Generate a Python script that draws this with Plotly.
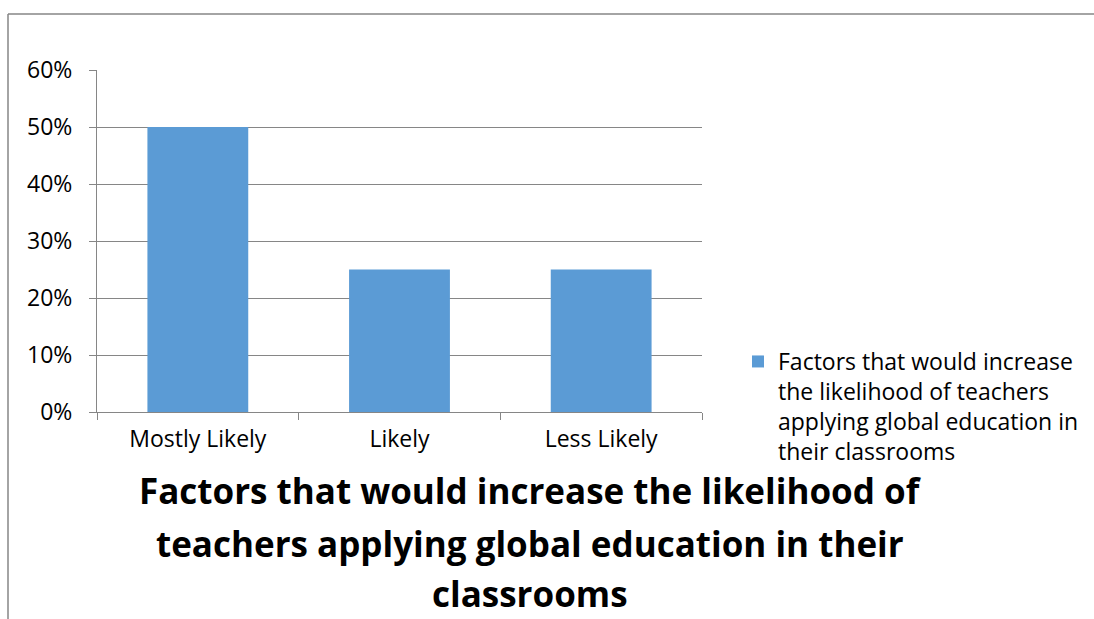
import plotly.graph_objects as go

categories = ["Mostly Likely", "Likely", "Less Likely"]
values = [0.50, 0.25, 0.25]
series_name = "Factors that would increase<br>the likelihood of teachers<br>applying global education in<br>their classrooms"
title_lines = ["Factors that would increase the likelihood of",
               "teachers applying global education in their",
               "classrooms"]
y_ticks = [0, 0.1, 0.2, 0.3, 0.4, 0.5, 0.6]

W, H = 1094, 619
L, R, T, B = 97, 702, 70, 412
pw, ph = R - L, B - T

def px2x(px):
    return (px - L) / pw

def py2y(py):
    return (B - py) / ph

font_family = "'Open Sans', sans-serif"

fig = go.Figure()
fig.add_trace(go.Bar(
    x=categories, y=values, name=series_name,
    marker=dict(color="#5B9BD5", line=dict(width=0)),
    showlegend=True,
))

fig.update_layout(
    width=W, height=H,
    margin=dict(l=L, r=W - R, t=T, b=H - B, autoexpand=False),
    paper_bgcolor="white", plot_bgcolor="white",
    bargap=0.5,
    font=dict(family=font_family, size=23, color="black"),
    xaxis=dict(
        showline=True, linecolor="#868686", linewidth=1,
        ticks="outside", tickson="boundaries", ticklen=7, tickcolor="#868686",
        showgrid=False, tickfont=dict(size=23), ticklabelstandoff=6,
    ),
    yaxis=dict(
        range=[0, 0.6], tickvals=y_ticks, tickformat=".0%",
        showline=True, linecolor="#868686", linewidth=1,
        ticks="outside", ticklen=7, tickcolor="#868686",
        showgrid=True, gridcolor="#868686", gridwidth=1,
        zeroline=False, tickfont=dict(size=23), ticklabelstandoff=12,
    ),
    legend=dict(
        x=px2x(738), y=py2y(340), xanchor="left", yanchor="top",
        valign="top", font=dict(size=23), bgcolor="rgba(0,0,0,0)",
        itemwidth=30, tracegroupgap=0,
    ),
)

# chart border (top and left)
fig.add_shape(type="line", xref="paper", yref="paper",
              x0=px2x(8), x1=px2x(W + 5), y0=py2y(14), y1=py2y(14),
              line=dict(color="#868686", width=1.5))
fig.add_shape(type="line", xref="paper", yref="paper",
              x0=px2x(8), x1=px2x(8), y0=py2y(14), y1=py2y(H + 5),
              line=dict(color="#868686", width=1.5))

title_y = [491, 543, 593]
for line, ty in zip(title_lines, title_y):
    fig.add_annotation(text="<b>" + line + "</b>", xref="paper", yref="paper",
                       x=px2x(530), y=py2y(ty), xanchor="center", yanchor="middle",
                       showarrow=False, borderpad=0,
                       font=dict(size=35, family=font_family, color="black"))

fig.write_html("out.html", config={"displayModeBar": False},
               post_script="document.body.style.margin='0';document.body.style.overflow='hidden';")
